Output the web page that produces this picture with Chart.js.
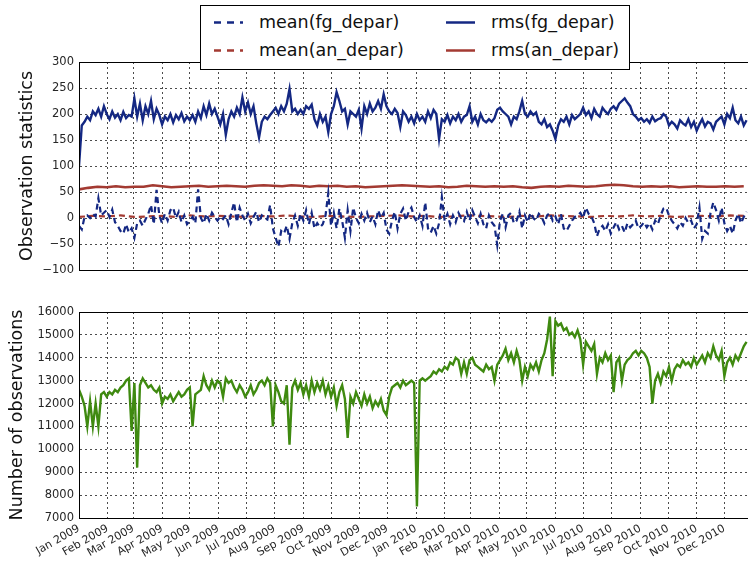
<!DOCTYPE html>
<html>
<head>
<meta charset="utf-8">
<script src="https://cdn.jsdelivr.net/npm/chart.js@4.4.0/dist/chart.umd.min.js"></script>
<style>
  html, body { margin: 0; padding: 0; background: #fff; width: 748px; height: 566px; overflow: hidden; }
  #topBox { position: absolute; left: 0; top: 0; width: 760px; height: 290px; }
  #botBox { position: absolute; left: 0; top: 290px; width: 760px; height: 276px; }
  #legend { position: absolute; left: 200px; top: 5px; width: 428px; height: 63px; border: 1px solid #000;
            background: #fff; font-family: "DejaVu Sans", sans-serif; font-size: 17.5px; color: #111; z-index: 5; }
  #legend .item { position: absolute; height: 24px; line-height: 24px; white-space: nowrap; }
  #legend svg { position: absolute; top: 0; }
  #legend span { position: absolute; }
</style>
</head>
<body>
<div id="topBox"><canvas id="topChart" width="760" height="290"></canvas></div>
<div id="botBox"><canvas id="botChart" width="760" height="276"></canvas></div>
<div id="legend"></div>
<script>
// daily series from Jan 1 2009
var monthNames = ['Jan','Feb','Mar','Apr','May','Jun','Jul','Aug','Sep','Oct','Nov','Dec'];
var years = [2009, 2010];

// rms(fg_depar), every 3 days
var rmsFgStep = 3;
var rmsFg = [
  100,178,185,195,188,205,198,210,195,215,
  200,190,205,193,200,188,204,192,198,195,
  230,195,220,188,215,200,225,190,210,198,
  180,195,188,200,184,198,190,202,186,195,
  188,198,185,205,192,215,198,220,200,210,
  195,180,200,160,190,205,195,212,200,232,
  205,222,200,215,182,155,185,195,190,198,
  205,212,200,215,205,220,248,205,210,200,
  208,200,215,210,218,190,178,200,185,195,
  165,200,215,242,225,205,210,180,205,200,
  195,208,172,215,200,220,205,212,225,210,
  238,215,205,200,210,202,175,205,198,185,
  195,182,200,188,195,185,205,192,208,200,
  152,190,185,198,182,195,188,200,185,195,
  198,215,185,195,180,200,188,184,190,185,
  192,208,212,205,200,195,180,195,190,205,
  225,200,195,205,198,203,185,180,190,175,
  180,168,152,178,190,185,195,180,198,190,
  195,200,212,198,205,192,210,200,195,212,
  205,200,210,215,208,220,225,230,222,215,
  200,195,188,192,185,190,183,195,186,190,
  192,200,195,178,185,180,172,188,182,178,
  190,175,185,168,180,190,176,185,182,170,
  185,190,195,180,200,192,212,188,182,195,
  178,188
];

// mean(fg_depar), every 3 days
var meanFgStep = 3;
var meanFg = [
  -15,-22,2,5,0,8,3,38,5,10,
  15,2,16,-8,-15,-25,-30,-12,-28,-20,
  -38,-10,-5,-15,-3,8,25,-12,54,5,
  -10,8,-5,15,20,0,12,-8,5,-12,
  -5,2,-10,55,0,-10,8,-5,10,2,
  -5,3,-2,5,-12,10,30,-8,20,5,
  -5,8,-10,2,12,-8,5,0,-3,25,
  -20,-38,-55,-25,-30,-15,-40,-10,5,-15,
  8,-5,15,-12,10,-20,-10,-18,-12,5,
  48,-15,10,-20,18,-5,-38,15,-25,20,
  0,-10,8,-5,10,-8,3,-12,15,0,
  10,-22,-30,-5,12,-20,8,18,-5,12,
  20,2,-8,5,-15,30,-20,-28,-15,-30,
  -10,40,-5,8,-12,5,-8,10,0,-6,
  12,-5,15,2,-10,8,-12,-20,5,-8,
  -15,-52,-5,8,-18,5,10,-10,-5,12,
  -20,5,-8,10,0,-5,8,2,-10,5,
  10,-5,3,-12,8,-20,-25,-15,-5,2,
  5,10,0,20,8,3,-10,-35,-20,-15,
  -25,-12,-30,-18,-8,-22,-15,-28,-10,-18,
  -12,-5,-20,-15,-8,-18,-10,-22,-5,-12,
  5,18,20,5,-5,-12,-20,-8,-15,0,
  -10,-5,-20,-12,20,-40,-25,-30,10,30,
  15,-5,20,-10,-25,-15,-30,-5,8,-10,
  2,12
];

// mean(an_depar), every 15 days
var meanAnStep = 15;
var meanAn = [2,4,3,5,2,3,4,2,5,3,4,3,2,4,3,5,3,2,4,3,2,3,4,5,3,4,2,3,5,4,3,2,4,3,5,4,3,2,4,3,5,3,4,2,3,4,3,5,4];

// rms(an_depar), every 10 days
var rmsAnStep = 10;
var rmsAn = [55,58,60,59,61,59,60,60,63,61,59,60,61,62,60,61,62,61,60,62,63,62,61,63,62,60,62,61,62,60,61,59,60,61,62,63,62,61,60,61,59,60,62,61,60,61,60,61,59,58,60,61,60,62,61,60,61,63,64,63,61,60,61,60,61,59,60,61,60,60,61,60,61];

// number of observations, every 3 days
var nobsStep = 3;
var nobs = [
  12600,12300,11900,11000,12100,11000,12000,11000,12400,12500,
  12300,12500,12400,12600,12500,12700,12800,13000,13100,10800,
  12900,9200,12800,13100,12900,12700,12800,12600,12500,12700,
  12000,12300,12200,12400,12100,12300,12500,12300,12400,12600,
  12700,11000,12400,12500,12600,13200,12800,12600,13000,12700,
  13000,12900,12300,13100,12900,13000,12700,12500,12800,12600,
  12300,12500,12800,12400,12600,12900,13000,12800,13100,12900,
  11000,12800,12500,12100,12000,12800,10200,12700,13000,12600,
  12900,12400,12800,12300,13000,12500,12900,12600,13000,12400,
  12800,12300,12700,11900,12500,12800,12200,10500,12300,12000,
  12500,12200,11900,12400,12000,12300,11800,12100,11900,12200,
  11700,11500,12300,12700,12800,12900,12700,13000,12800,12900,
  13000,12900,7500,13000,13100,13000,13100,13200,13400,13300,
  13500,13400,13600,13500,13800,13700,14000,13900,13300,13800,
  13300,13900,14000,13700,13600,13500,13400,13700,13500,13600,
  13000,13700,13900,14100,14400,13900,14200,13800,14300,13900,
  13000,13600,13200,13700,13500,13800,13400,13900,14200,14800,
  15800,13200,15600,15400,15500,15200,15300,15000,15100,14900,
  15200,14800,13700,14700,14500,14300,14600,13300,14000,13800,
  14200,13900,14100,12500,13800,14000,13000,13700,13900,14000,
  14200,14300,14100,14300,14200,14000,13600,12000,13000,13300,
  12900,13400,13200,13600,13000,13500,13700,13600,13900,13700,
  13800,13600,14000,13700,13900,14100,13800,14200,14000,14500,
  14100,13900,14300,13200,13800,14000,13700,14100,13900,14200,
  14500,14700
];

var blue = '#142883';
var red = '#a33a32';
var green = '#3f8a10';
var font = '"DejaVu Sans", sans-serif';

//month start positions (in days from Jan 1 2009) and their labels
var monthDays = [];
var monthLabels = [];
years.forEach(function(y){
  monthNames.forEach(function(m, i){
    monthDays.push((Date.UTC(y, i, 1) - Date.UTC(2009, 0, 1)) / 864e5);
    monthLabels.push(m + ' ' + y);
  });
});

function toPoints(values, step){
  return values.map(function(v, i){ return {x: i * step, y: v}; });
}

function minus(v){
  return v < 0 ? '\u2212' + Math.abs(v) : String(v);
}

var frame = {
  id: 'frame',
  afterDraw: function(chart){
    var a = chart.chartArea, c = chart.ctx;
    c.save();
    c.strokeStyle = '#000';
    c.lineWidth = 1;
    c.strokeRect(Math.round(a.left) + 0.5, Math.round(a.top) + 0.5, Math.round(a.right - a.left), Math.round(a.bottom - a.top));
    c.restore();
  }
};

function gridOpts(){
  return { color: 'rgba(0,0,0,0.7)', lineWidth: 1, drawTicks: false };
}

function xScale(showLabels, h){
  return {
    type: 'linear', min: 0, max: 730,
    grid: gridOpts(),
    border: { display: true, color: '#000', dash: [2, 3] },
    afterBuildTicks: function(scale){
      scale.ticks = monthDays.map(function(d){ return {value: d}; });
    },
    afterFit: function(scale){ scale.height = h; },
    ticks: {
      display: showLabels, autoSkip: false, maxRotation: 30, minRotation: 30, padding: 4,
      color: '#262626', font: { family: font, size: 11 },
      callback: function(v){ var i = monthDays.indexOf(v); return i >= 0 ? monthLabels[i] : ''; }
    }
  };
}

function yScale(min, max, step, title, titlePad){
  return {
    min: min, max: max,
    grid: gridOpts(),
    border: { display: true, color: '#000', dash: [2, 3] },
    afterFit: function(scale){ scale.width = 79; },
    ticks: {
      stepSize: step, autoSkip: false, padding: 5,
      color: '#262626', font: { family: font, size: 11.5 },
      callback: function(v){ return minus(v); }
    },
    title: { display: true, text: title, color: '#111', font: { family: font, size: 17.5 }, padding: { top: titlePad, bottom: 0 } }
  };
}

var topChart = new Chart(document.getElementById('topChart'), {
  type: 'line',
  data: {
    datasets: [
      { label: 'mean(fg_depar)', data: toPoints(meanFg, meanFgStep), borderColor: blue, borderWidth: 2.2, borderDash: [6, 4] },
      { label: 'rms(fg_depar)', data: toPoints(rmsFg, rmsFgStep), borderColor: blue, borderWidth: 2.4 },
      { label: 'mean(an_depar)', data: toPoints(meanAn, meanAnStep), borderColor: red, borderWidth: 2.2, borderDash: [6, 4] },
      { label: 'rms(an_depar)', data: toPoints(rmsAn, rmsAnStep), borderColor: red, borderWidth: 2.6 }
    ]
  },
  options: {
    responsive: false, animation: false,
    layout: { padding: { top: 62, right: 7, bottom: 0, left: 0 } },
    elements: { point: { radius: 0 }, line: { tension: 0 } },
    plugins: { legend: { display: false }, tooltip: { enabled: false } },
    scales: {
      x: xScale(false, 20),
      y: yScale(-100, 300, 50, 'Observation statistics', 17)
    }
  },
  plugins: [frame]
});

var botChart = new Chart(document.getElementById('botChart'), {
  type: 'line',
  data: {
    datasets: [
      { label: 'nobs', data: toPoints(nobs, nobsStep), borderColor: green, borderWidth: 2.4 }
    ]
  },
  options: {
    responsive: false, animation: false,
    layout: { padding: { top: 22, right: 7, bottom: 0, left: 0 } },
    elements: { point: { radius: 0 }, line: { tension: 0 } },
    plugins: { legend: { display: false }, tooltip: { enabled: false } },
    scales: {
      x: xScale(true, 48),
      y: yScale(7000, 16000, 1000, 'Number of observations', 7)
    }
  },
  plugins: [frame]
});

// legend box drawn as html, two columns
var legendItems = [
  { text: 'mean(fg_depar)', color: blue, dashed: true, left: 12, top: 4 },
  { text: 'rms(fg_depar)', color: blue, dashed: false, left: 244, top: 4 },
  { text: 'mean(an_depar)', color: red, dashed: true, left: 12, top: 32 },
  { text: 'rms(an_depar)', color: red, dashed: false, left: 244, top: 32 }
];
var legend = document.getElementById('legend');
legendItems.forEach(function(it){
  var d = document.createElement('div');
  d.className = 'item';
  d.style.left = it.left + 'px';
  d.style.top = it.top + 'px';
  var dash = it.dashed ? ' stroke-dasharray="7,6"' : '';
  d.innerHTML = '<svg width="32" height="24"><line x1="1" y1="12.5" x2="30" y2="12.5" stroke="' + it.color + '" stroke-width="2.5"' + dash + '/></svg>' +
    '<span style="left:46px">' + it.text + '</span>';
  legend.appendChild(d);
});
</script>
</body>
</html>
